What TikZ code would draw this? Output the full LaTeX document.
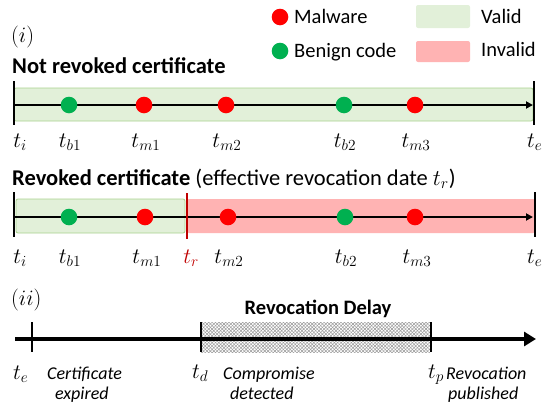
\documentclass[tikz,border=0pt]{standalone}
\usepackage{fix-cm}
\usepackage{fontspec}
\setmainfont{Carlito}
\usetikzlibrary{arrows.meta,patterns.meta}
\definecolor{validfill}{HTML}{E2F0D9}
\definecolor{validline}{HTML}{A9D18E}
\definecolor{invalidfill}{HTML}{FFB3B3}
\definecolor{malc}{HTML}{FF0000}
\definecolor{benc}{HTML}{00B050}
\definecolor{revred}{HTML}{C00000}
\begin{document}
\begin{tikzpicture}[x=1pt,y=-1pt,
  txt/.style={font=\fontsize{20.5}{24}\selectfont, inner sep=0pt},
  ttxt/.style={font=\fontsize{22.5}{26}\selectfont, inner sep=0pt},
  btxt/.style={font=\fontsize{22.5}{26}\selectfont\bfseries, inner sep=0pt},
  rdtxt/.style={font=\fontsize{20.5}{24}\selectfont\bfseries, inner sep=0pt},
  itxt/.style={font=\fontsize{18}{22}\selectfont\itshape, inner sep=0pt},
  lab/.style={font=\fontsize{22}{26}\selectfont, inner sep=0pt, anchor=base},
  maldot/.style={circle, fill=malc, minimum size=16.6pt, inner sep=0pt},
  bendot/.style={circle, fill=benc, minimum size=16.6pt, inner sep=0pt},
  tick/.style={line width=2.5pt},
  thinaxis/.style={line width=1.8pt, -{Triangle[length=7pt,width=7pt]}},
  validbar/.style={fill=validfill, draw=validline, line width=0.8pt, rounded corners=2pt},
  invalidbar/.style={fill=invalidfill, rounded corners=2pt},
]
\useasboundingbox (0,0) rectangle (543,402);

% ---------- legend ----------
\node[maldot] (legm) at (280,17) {};
\node[txt, anchor=base west] (legmt) at (294,23.5) {Malware};
\node[bendot] (legb) at (280,51) {};
\node[txt, anchor=base west] (legbt) at (294,57) {Benign code};
\node[validbar, draw=none, minimum width=54pt, minimum height=23pt, inner sep=0pt] (legv) at (443,16.5) {};
\node[txt, anchor=base west] (legvt) at (481,23) {Valid};
\node[invalidbar, minimum width=54pt, minimum height=21pt, inner sep=0pt] (legi) at (443,51.5) {};
\node[txt, anchor=base west] (legit) at (481,56) {Invalid};

% ---------- (i) ----------
\node[lab, anchor=base west] (ilab) at (11,42) {$(i)$};
\node[btxt, anchor=base west] (nrt) at (12,73) {Not revoked certificate};

\path[validbar] (14,88) rectangle (533,121);
\coordinate (a1s) at (14,105);
\coordinate (a1e) at (533,105);
\draw[thinaxis] (a1s) -- (a1e);
\draw[tick] (14,81) -- (14,125);
\draw[tick] (534,81) -- (534,125);
\node[bendot] (d1) at (69,105) {};
\node[maldot] (d2) at (144,105) {};
\node[maldot] (d3) at (226,105) {};
\node[bendot] (d4) at (344,105) {};
\node[maldot] (d5) at (415,105) {};

\node[lab] (l1a) at (20,147) {$t_i$};
\node[lab] (l1b) at (70,147) {$t_{b1}$};
\node[lab] (l1c) at (146,147) {$t_{m1}$};
\node[lab] (l1d) at (227,147) {$t_{m2}$};
\node[lab] (l1e) at (345,147) {$t_{b2}$};
\node[lab] (l1f) at (416,147) {$t_{m3}$};
\node[lab, anchor=base west] (l1g) at (527,147) {$t_e$};

% ---------- revoked ----------
\node[ttxt, anchor=base west] (rt) at (12,185) {\textbf{Revoked certificate} (effective revocation date $t_r$)};
\path[validbar] (16,199) rectangle (185,233);
\path[invalidbar] (187,199) rectangle (535,233);
\coordinate (a2s) at (14,217);
\coordinate (a2e) at (533,217);
\draw[thinaxis] (a2s) -- (a2e);
\draw[tick] (14,192) -- (14,237);
\draw[tick] (535,192) -- (535,237);
\draw[line width=2.2pt, revred] (187,193) -- (187,239);
\node[bendot] (e1) at (69,217) {};
\node[maldot] (e2) at (145,217) {};
\node[maldot] (e3) at (228,217) {};
\node[bendot] (e4) at (345,217) {};
\node[maldot] (e5) at (415,217) {};

\node[lab] (l2a) at (20,263) {$t_i$};
\node[lab] (l2b) at (70,263) {$t_{b1}$};
\node[lab] (l2c) at (147,263) {$t_{m1}$};
\node[lab, text=revred] (l2r) at (191,263) {$t_r$};
\node[lab] (l2d) at (229,263) {$t_{m2}$};
\node[lab] (l2e) at (346,263) {$t_{b2}$};
\node[lab] (l2f) at (417,263) {$t_{m3}$};
\node[lab, anchor=base west] (l2g) at (527,263) {$t_e$};

% ---------- (ii) ----------
\node[lab, anchor=base west] (iilab) at (11,305) {$(ii)$};
\node[rdtxt, anchor=base] (rdl) at (318,314.5) {Revocation Delay};
\fill[white] (201,322) rectangle (431,352);
\fill[pattern={Lines[angle=45,distance=2.4pt,line width=0.5pt]}, pattern color=gray!80] (201,322) rectangle (431,352);
\fill[pattern={Lines[angle=-45,distance=2.4pt,line width=0.5pt]}, pattern color=gray!80] (201,322) rectangle (431,352);
\coordinate (a3s) at (15,339);
\coordinate (a3e) at (536,339);
\draw[line width=4pt, -{Triangle[length=12pt,width=14pt]}] (a3s) -- (a3e);
\draw[tick] (32,322) -- (32,352);
\draw[tick] (201,322) -- (201,352);
\draw[tick] (431,322) -- (431,352);

\node[lab, anchor=base west] (te) at (13,379) {$t_e$};
\node[itxt, anchor=base west] (tec1) at (47,379) {Certificate};
\node[itxt, anchor=base west] (tec2) at (55,399) {expired};
\node[lab, anchor=base west] (td) at (192,378) {$t_d$};
\node[itxt, anchor=base west] (tdc1) at (223,379) {Compromise};
\node[itxt, anchor=base west] (tdc2) at (230,399) {detected};
\node[lab, anchor=base west] (tp) at (428,378) {$t_p$};
\node[itxt, anchor=base west] (tpc1) at (446,379) {Revocation};
\node[itxt, anchor=base west] (tpc2) at (448,399) {published};
\end{tikzpicture}
\end{document}
